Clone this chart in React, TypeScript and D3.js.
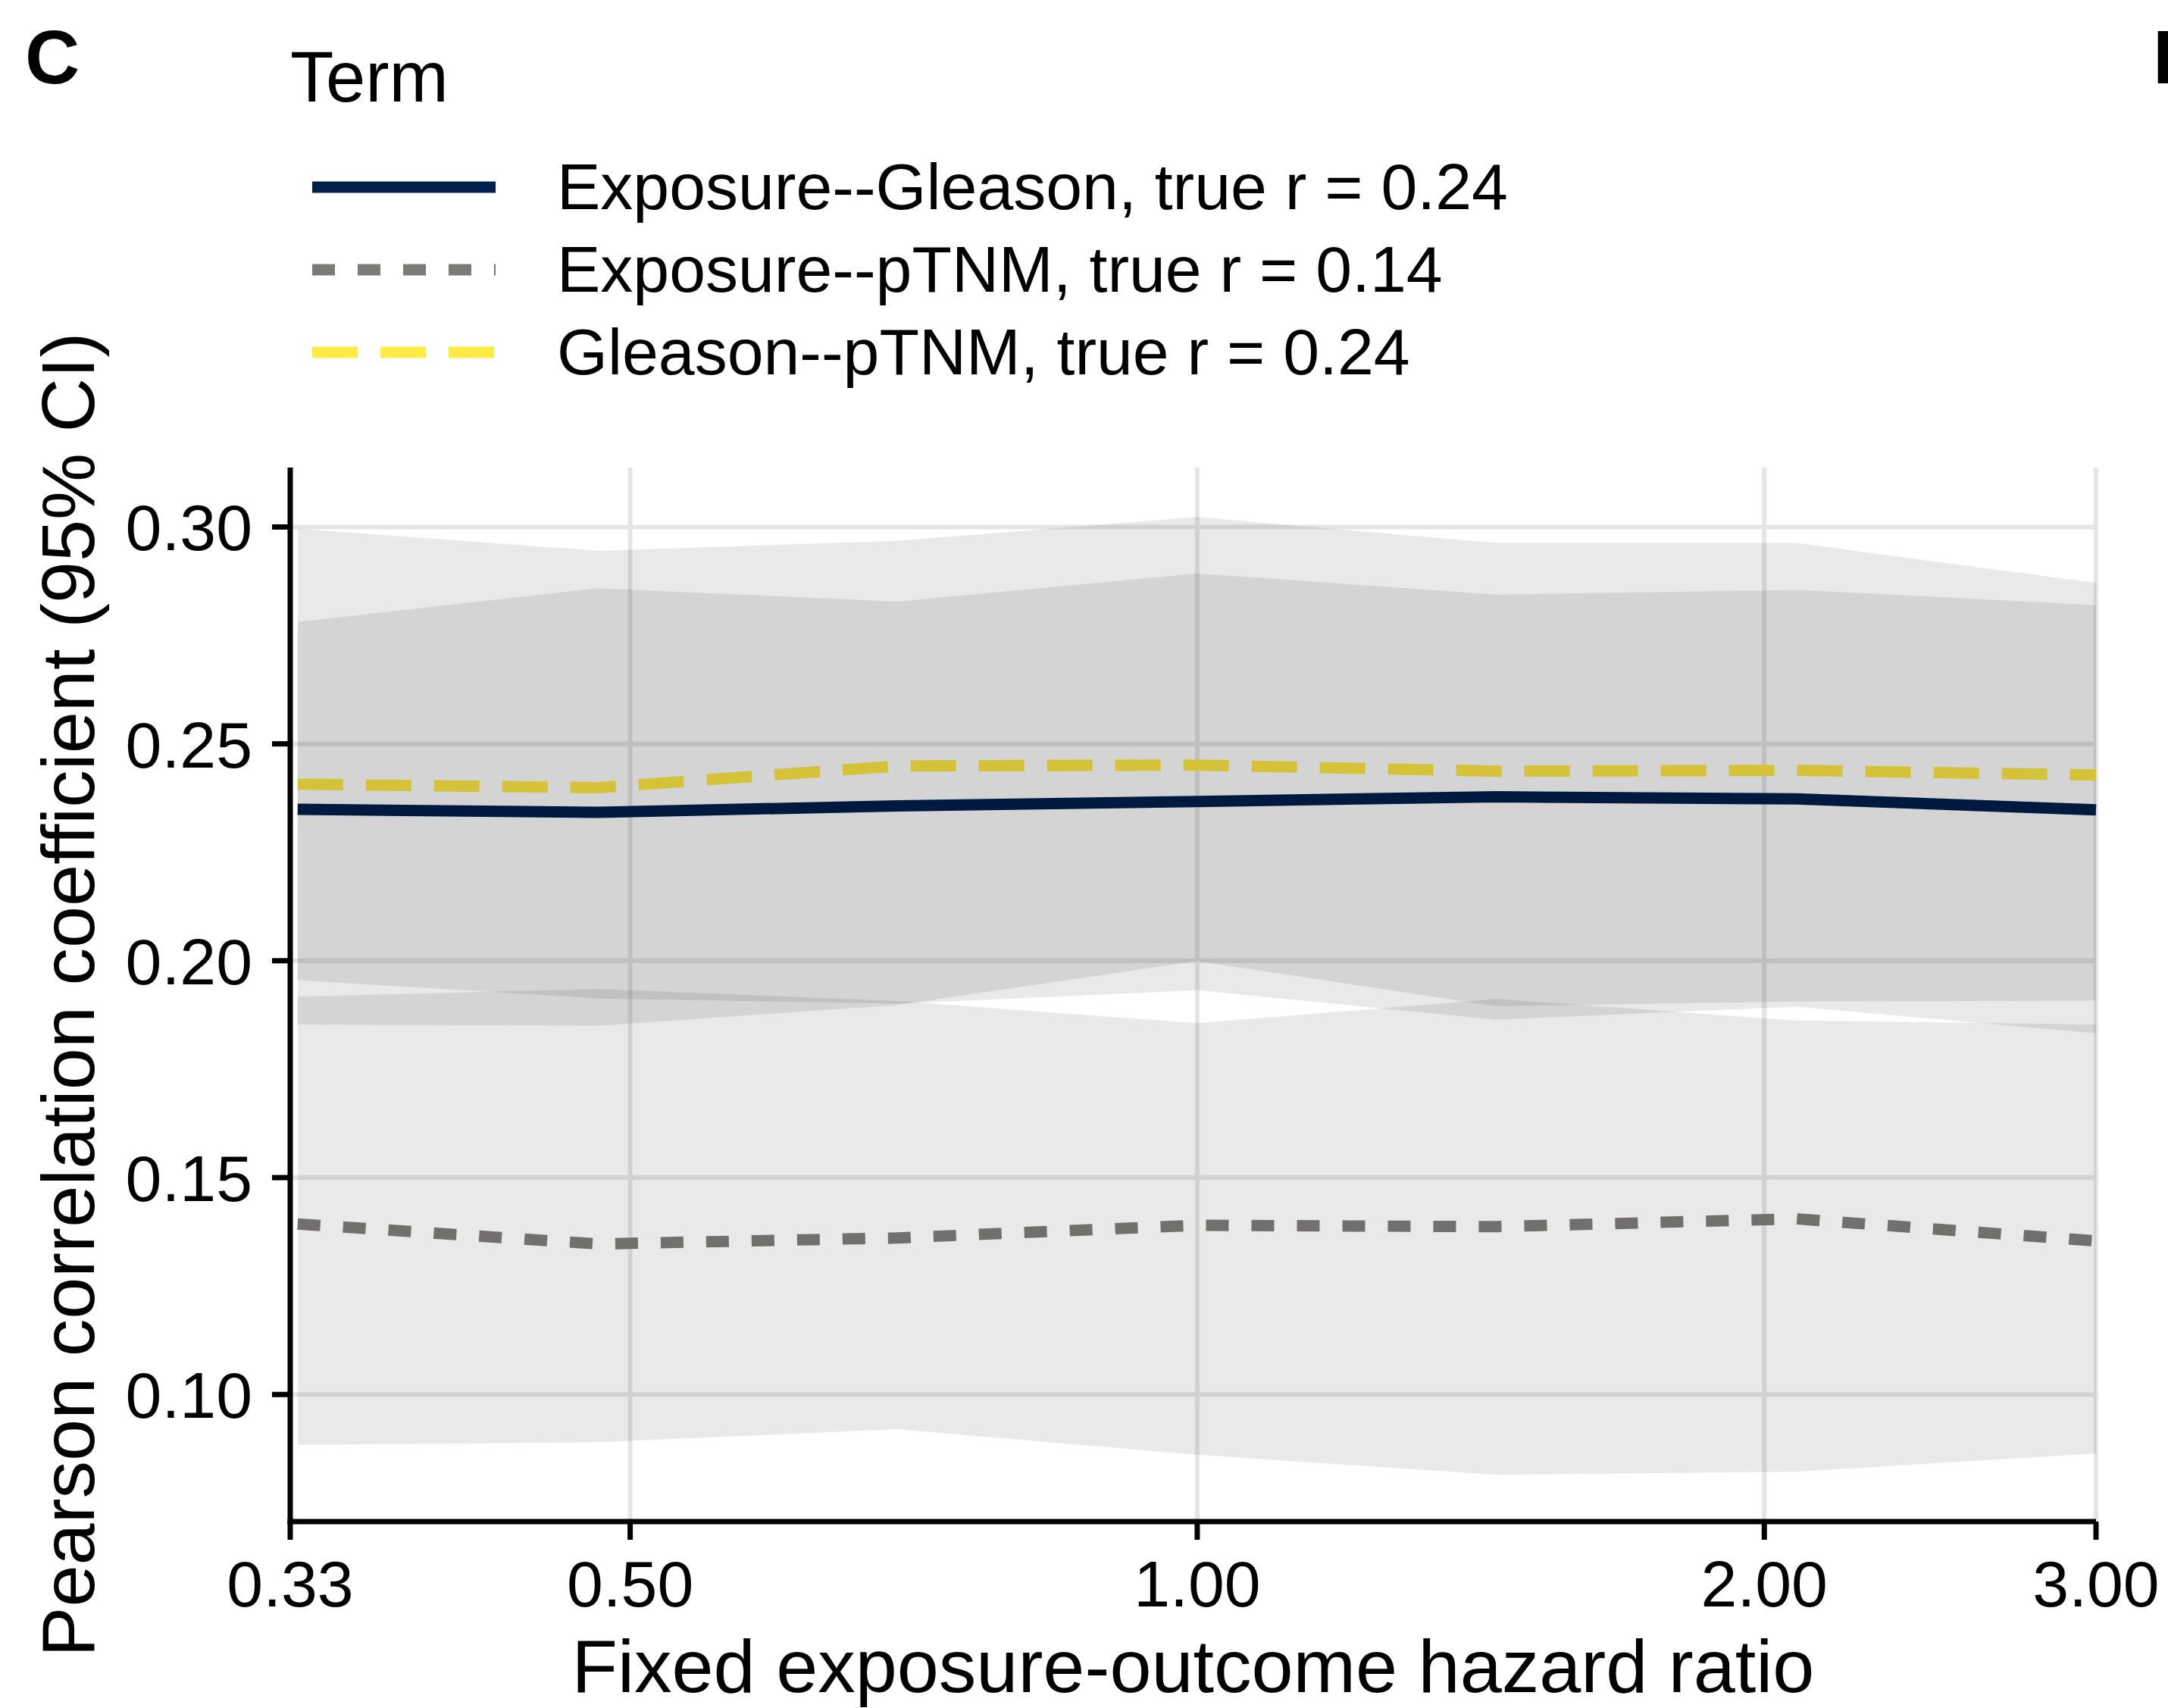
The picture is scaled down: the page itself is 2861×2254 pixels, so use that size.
import React from 'react';
import * as d3 from 'd3';

// Fixed exposure-outcome hazard ratios (log-spaced grid from 1/3 to 3)
const hazardRatios = [0.333, 0.481, 0.693, 1, 1.442, 2.08, 3];

const xTickValues = [0.33, 0.5, 1, 2, 3];
const yTickValues = [0.1, 0.15, 0.2, 0.25, 0.3];

// Exposure--Gleason, true r = 0.24
const exposureGleasonMean = [0.2349, 0.2342, 0.2357, 0.2367, 0.2378, 0.2373, 0.2348];
const exposureGleasonLower = [0.1955, 0.1913, 0.1901, 0.1932, 0.1864, 0.1894, 0.1833];
const exposureGleasonUpper = [0.2781, 0.2859, 0.2828, 0.2893, 0.2844, 0.2855, 0.282];

// Exposure--pTNM, true r = 0.14
const exposurePtnmMean = [0.1393, 0.1347, 0.1361, 0.139, 0.1387, 0.1405, 0.1354];
const exposurePtnmLower = [0.0884, 0.089, 0.092, 0.0861, 0.0815, 0.0822, 0.0864];
const exposurePtnmUpper = [0.1917, 0.1935, 0.1907, 0.1856, 0.1912, 0.1862, 0.1853];

// Gleason--pTNM, true r = 0.24
const gleasonPtnmMean = [0.2407, 0.2399, 0.2449, 0.2451, 0.2437, 0.2439, 0.2428];
const gleasonPtnmLower = [0.1853, 0.185, 0.1898, 0.1999, 0.1895, 0.1906, 0.1908];
const gleasonPtnmUpper = [0.2996, 0.2945, 0.2968, 0.3023, 0.2963, 0.2963, 0.2871];

const termLabels = [
  'Exposure--Gleason, true r = 0.24',
  'Exposure--pTNM, true r = 0.14',
  'Gleason--pTNM, true r = 0.24',
];
const termColors = ['#00204D', '#7C7B78', '#FFEA46'];
const termDashUnits = [null, [2, 2], [4, 2]];

const FONT = '"Liberation Sans", Arial, Helvetica, sans-serif';
const W = 2861;
const H = 2254;
const LW = 15;

const panel = { left: 383, right: 2766, top: 617, bottom: 2008 };

type Row = { x: number; mean: number; lo: number; hi: number };

function buildRows(mean: number[], lo: number[], hi: number[]): Row[] {
  return hazardRatios.map((x, i) => ({ x, mean: mean[i], lo: lo[i], hi: hi[i] }));
}

const series = [
  buildRows(exposureGleasonMean, exposureGleasonLower, exposureGleasonUpper),
  buildRows(exposurePtnmMean, exposurePtnmLower, exposurePtnmUpper),
  buildRows(gleasonPtnmMean, gleasonPtnmLower, gleasonPtnmUpper),
];

export default function App() {
  const x = d3.scaleLog().domain([0.33, 3]).range([panel.left, panel.right]);
  const y = d3.scaleLinear().domain([0.0707, 0.3137]).range([panel.bottom, panel.top]);
  const fmt = d3.format('.2f');

  const line = d3
    .line<Row>()
    .x((d) => x(d.x))
    .y((d) => y(d.mean));
  const area = d3
    .area<Row>()
    .x((d) => x(d.x))
    .y0((d) => y(d.lo))
    .y1((d) => y(d.hi));

  const dash = (i: number) => {
    const u = termDashUnits[i];
    return u ? u.map((v) => v * LW).join(' ') : undefined;
  };

  const legendY = [247, 356, 465];

  return (
    <svg
      width={W}
      height={H}
      style={{ position: 'absolute', left: 0, top: 0, background: '#fff' }}
      fontFamily={FONT}
    >
      <rect x={0} y={0} width={W} height={H} fill="#fff" />

      {/* panel tags */}
      <text x={33} y={110} fontSize={100} fontWeight="bold" fill="#000">C</text>
      <text x={2841} y={110} fontSize={100} fontWeight="bold" fill="#000">D</text>

      {/* legend */}
      <text x={383} y={134} fontSize={94} fill="#000">Term</text>
      {termLabels.map((lab, i) => (
        <g key={lab}>
          <line
            x1={412}
            x2={654}
            y1={legendY[i]}
            y2={legendY[i]}
            stroke={termColors[i]}
            strokeWidth={LW}
            strokeDasharray={dash(i)}
          />
          <text x={735} y={legendY[i] + 29} fontSize={86} fill="#000">{lab}</text>
        </g>
      ))}

      {/* grid */}
      {yTickValues.map((v) => (
        <line key={'gy' + v} x1={panel.left} x2={panel.right} y1={y(v)} y2={y(v)} stroke="#e5e5e5" strokeWidth={6} />
      ))}
      {xTickValues.map((v) => (
        <line key={'gx' + v} x1={x(v)} x2={x(v)} y1={panel.top} y2={panel.bottom} stroke="#e5e5e5" strokeWidth={6} />
      ))}

      {/* estimate lines */}
      {series.map((rows, i) => (
        <path
          key={'l' + i}
          d={line(rows) || ''}
          fill="none"
          stroke={termColors[i]}
          strokeWidth={LW}
          strokeDasharray={dash(i)}
          strokeLinejoin="round"
          strokeLinecap="butt"
        />
      ))}

      {/* 95% CI ribbons, translucent, laid over the estimate lines */}
      {series.map((rows, i) => (
        <path key={'r' + i} d={area(rows) || ''} fill="#000" fillOpacity={0.087} />
      ))}

      {/* axes */}
      <line x1={panel.left} x2={panel.left} y1={panel.top} y2={panel.bottom + 3.5} stroke="#000" strokeWidth={7} />
      <line x1={panel.left - 3.5} x2={panel.right} y1={panel.bottom} y2={panel.bottom} stroke="#000" strokeWidth={7} />
      {yTickValues.map((v) => (
        <g key={'ty' + v}>
          <line x1={panel.left - 24} x2={panel.left} y1={y(v)} y2={y(v)} stroke="#000" strokeWidth={7} />
          <text x={333} y={y(v) + 31} fontSize={86} textAnchor="end" fill="#000">{fmt(v)}</text>
        </g>
      ))}
      {xTickValues.map((v) => (
        <g key={'tx' + v}>
          <line x1={x(v)} x2={x(v)} y1={panel.bottom} y2={panel.bottom + 24} stroke="#000" strokeWidth={7} />
          <text x={x(v)} y={2120} fontSize={86} textAnchor="middle" fill="#000">{fmt(v)}</text>
        </g>
      ))}

      {/* axis titles */}
      <text x={(panel.left + panel.right) / 2} y={2233} fontSize={99} textAnchor="middle" fill="#000">
        Fixed exposure-outcome hazard ratio
      </text>
      <text
        transform={`translate(124, ${(panel.top + panel.bottom) / 2}) rotate(-90)`}
        fontSize={99}
        textAnchor="middle"
        fill="#000"
      >
        Pearson correlation coefficient (95% CI)
      </text>
    </svg>
  );
}
